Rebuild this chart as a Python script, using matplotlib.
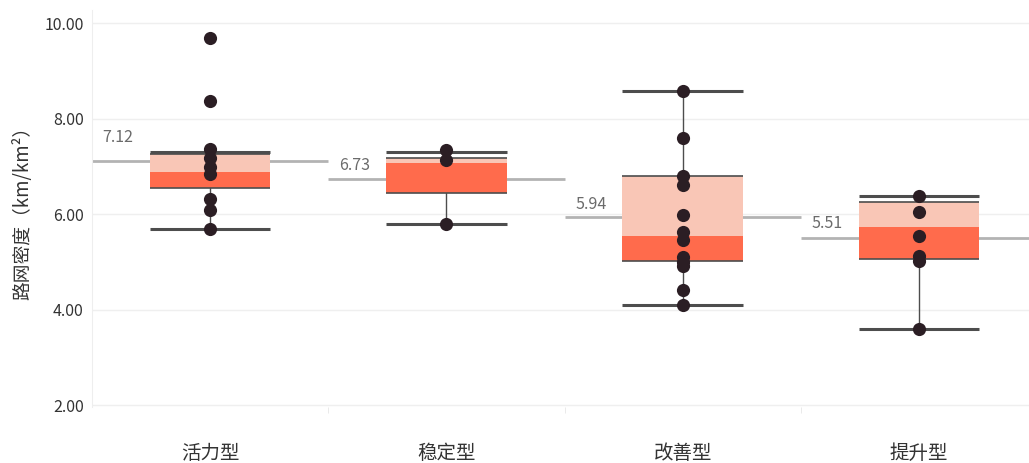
import matplotlib.pyplot as plt

plt.rcParams['font.family'] = ['Noto Sans CJK SC', 'DejaVu Sans']

# categories and values
categories = ['活力型', '稳定型', '改善型', '提升型']
means = [7.12, 6.73, 5.94, 5.51]
q1 = [6.55, 6.45, 5.02, 5.07]
medians = [6.88, 7.08, 5.55, 5.73]
q3 = [7.26, 7.18, 6.80, 6.25]
whisker_low = [5.70, 5.79, 4.10, 3.60]
whisker_high = [7.30, 7.30, 8.58, 6.39]
points = [
    [9.69, 8.38, 7.36, 7.17, 6.99, 6.84, 6.31, 6.09, 5.70],
    [7.35, 7.13, 5.79],
    [8.58, 7.60, 6.80, 6.62, 5.99, 5.62, 5.46, 5.10, 5.00, 4.91, 4.41, 4.10],
    [6.39, 6.04, 5.54, 5.13, 5.01, 3.60],
]

dark_fill = '#ff6b4c'
light_fill = '#f9c6b6'
line_col = '#4d4d4d'
dot_col = '#2b1e24'

fig = plt.figure(figsize=(10.29, 4.63), dpi=100)
ax = fig.add_axes([92 / 1029, 56 / 463, 945 / 1029, 397 / 463])

box_w = 0.51
label_dy = [0.32, 0.12, 0.08, 0.12]  # the first label sits higher in the reference
for i, cat in enumerate(categories):
    # mean line across the whole band
    ax.hlines(means[i], i - 0.5, i + 0.5, color='#b3b3b3', lw=2, zorder=1)
    ax.text(i - 0.455, means[i] + label_dy[i], f'{means[i]:.2f}', color='#6b6b6b',
            fontsize=11.5, ha='left', va='bottom', zorder=2)
    # whisker
    ax.vlines(i, whisker_low[i], whisker_high[i], color=line_col, lw=1, zorder=2)
    # box halves
    ax.bar(i, medians[i] - q1[i], bottom=q1[i], width=box_w, color=dark_fill, zorder=3)
    ax.bar(i, q3[i] - medians[i], bottom=medians[i], width=box_w, color=light_fill, zorder=3)
    ax.hlines([q1[i], q3[i]], i - box_w / 2, i + box_w / 2, color=line_col, lw=1.2, zorder=4)
    # caps
    ax.hlines([whisker_low[i], whisker_high[i]], i - box_w / 2, i + box_w / 2,
              color=line_col, lw=2.2, zorder=4)
    ax.scatter([i] * len(points[i]), points[i], s=90, color=dot_col, zorder=5, linewidths=0)

ax.set_xlim(-0.5, 3.5)
ax.set_ylim(1.96, 10.28)
ax.set_yticks([2, 4, 6, 8, 10])
ax.set_yticklabels([f'{v:.2f}' for v in [2, 4, 6, 8, 10]])
ax.set_xticks(range(len(categories)))
ax.set_xticklabels(categories, fontsize=14, color='#333333')
ax.set_xticks([0.5, 1.5, 2.5], minor=True)
ax.tick_params(axis='x', which='major', length=0, pad=26)
ax.tick_params(axis='x', which='minor', length=4, color='#e6e6e6')
ax.tick_params(axis='y', length=0, labelsize=11.5, labelcolor='#333333', pad=6)
ax.set_ylabel('路网密度（km/km²）', fontsize=13.5, color='#333333', labelpad=8)
ax.grid(axis='y', color='#efefef', lw=1)
ax.set_axisbelow(True)
for s in ['top', 'right', 'bottom']:
    ax.spines[s].set_visible(False)
ax.spines['left'].set_color('#eeeeee')

fig.savefig('out.png', dpi=100)
